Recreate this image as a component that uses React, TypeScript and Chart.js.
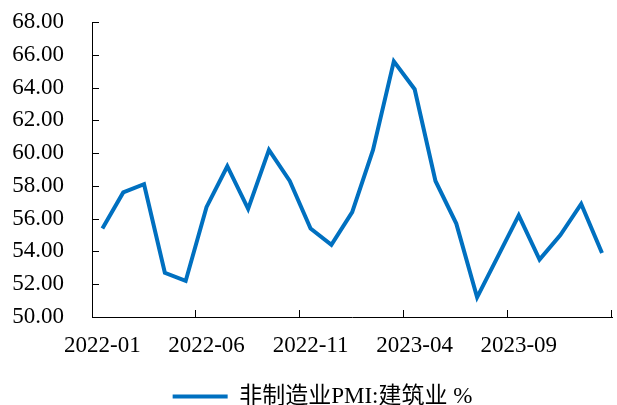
import { useEffect, useRef } from 'react';
import { Chart, registerables } from 'chart.js';

Chart.register(...registerables);

const categories = [
  '2022-01', '2022-02', '2022-03', '2022-04', '2022-05', '2022-06', '2022-07', '2022-08', '2022-09', '2022-10', '2022-11', '2022-12',
  '2023-01', '2023-02', '2023-03', '2023-04', '2023-05', '2023-06', '2023-07', '2023-08', '2023-09', '2023-10', '2023-11', '2023-12',
  '2024-01',
];
const values = [
  55.4, 57.6, 58.1, 52.7, 52.2, 56.7, 59.2, 56.6, 60.2, 58.3, 55.4, 54.4,
  56.4, 60.2, 65.6, 63.9, 58.3, 55.7, 51.2, 53.7, 56.2, 53.5, 55.0, 56.9,
  53.9,
];
const seriesName = '非制造业PMI:建筑业 %';
const yMin = 50;
const yMax = 68;
const yStep = 2;
const labelEvery = 5;

const LINE_COLOR = '#0070C0';
const SERIF = "'Liberation Serif', 'Times New Roman', serif";
const LEGEND_FONT = "'Liberation Serif', 'Noto Sans CJK SC', serif";

const innerTicks = {
  id: 'innerTicks',
  afterDraw(chart: any) {
    const { ctx } = chart;
    const x = chart.scales.x;
    const y = chart.scales.y;
    ctx.save();
    ctx.strokeStyle = '#000';
    ctx.lineWidth = 1;
    ctx.beginPath();
    y.ticks.forEach((t: any) => {
      const py = Math.round(y.getPixelForValue(t.value)) + 0.5;
      ctx.moveTo(x.left, py);
      ctx.lineTo(x.left + 7, py);
    });
    for (let i = labelEvery - 1; i < categories.length; i += labelEvery) {
      const px = Math.round(x.getPixelForValue(i + 0.5)) - 0.5;
      ctx.moveTo(px, y.bottom);
      ctx.lineTo(px, y.bottom - 7);
    }
    ctx.stroke();
    ctx.restore();
  },
};

const legendShift = {
  id: 'legendShift',
  afterLayout(chart: any) {
    if (chart.legend) {
      chart.legend.left += 28;
    }
  },
};

export default function App() {
  const ref = useRef<HTMLCanvasElement | null>(null);

  useEffect(() => {
    if (!ref.current) return;
    const chart = new Chart(ref.current, {
      type: 'line',
      data: {
        labels: categories,
        datasets: [
          {
            label: seriesName,
            data: values,
            borderColor: LINE_COLOR,
            backgroundColor: LINE_COLOR,
            borderWidth: 4,
            pointRadius: 0,
            pointHoverRadius: 0,
            tension: 0,
            fill: false,
          },
        ],
      },
      options: {
        responsive: false,
        animation: false,
        layout: { padding: { top: 0, right: 0, bottom: -13, left: 0 } },
        scales: {
          x: {
            type: 'category',
            offset: true,
            grid: { display: true, offset: true, drawOnChartArea: false, drawTicks: false },
            border: { display: true, color: '#000', width: 1 },
            ticks: {
              autoSkip: false,
              maxRotation: 0,
              minRotation: 0,
              padding: 15,
              color: '#000',
              font: { family: SERIF, size: 23 },
              callback: (_v: any, i: number) => (i % labelEvery === 0 ? categories[i] : ''),
            },
            afterFit: (scale: any) => {
              scale.height = 66;
            },
          },
          y: {
            min: yMin,
            max: yMax,
            grid: { display: true, drawOnChartArea: false, drawTicks: false },
            border: { display: true, color: '#000', width: 1 },
            ticks: {
              stepSize: yStep,
              autoSkip: false,
              padding: 28,
              color: '#000',
              font: { family: SERIF, size: 23 },
              callback: (v: any) => Number(v).toFixed(2),
            },
            afterFit: (scale: any) => {
              scale.width = 92;
              scale.paddingTop = 22;
              scale.paddingBottom = 14;
            },
          },
        },
        plugins: {
          tooltip: { enabled: false },
          title: { display: false },
          legend: {
            display: true,
            position: 'bottom',
            labels: {
              boxWidth: 55,
              boxHeight: 4,
              padding: 2,
              color: '#000',
              font: { family: LEGEND_FONT, size: 23 },
              generateLabels: () => [
                {
                  text: seriesName,
                  fillStyle: LINE_COLOR,
                  strokeStyle: LINE_COLOR,
                  lineWidth: 0,
                  hidden: false,
                  datasetIndex: 0,
                },
              ],
            },
          },
        },
      },
      plugins: [innerTicks, legendShift],
    });
    return () => chart.destroy();
  }, []);

  return (
    <div style={{ position: 'fixed', left: 0, top: 0, width: 617, height: 405, background: '#fff' }}>
      <canvas ref={ref} width={617} height={405} style={{ display: 'block' }} />
    </div>
  );
}
